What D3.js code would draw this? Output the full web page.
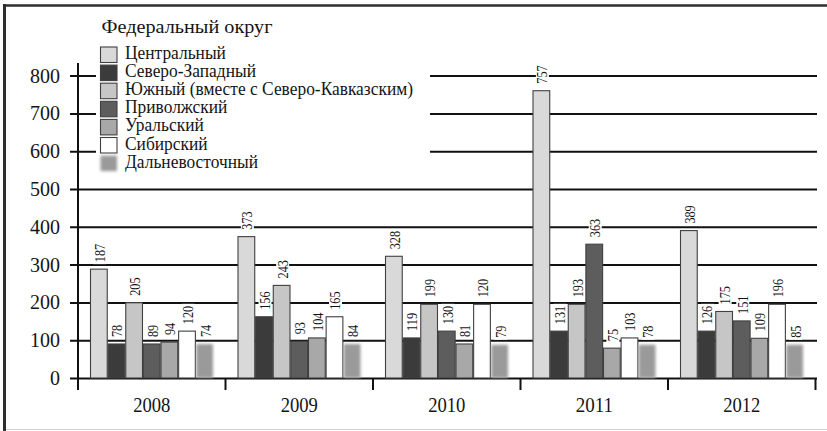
<!DOCTYPE html>
<html lang="ru">
<head>
<meta charset="UTF-8">
<title>Федеральный округ</title>
<script src="https://d3js.org/d3.v7.min.js"></script>
<style>
  body, html { margin: 0; background: #fff; }
  svg { display: block; }
  svg text { font-family: "Liberation Serif", "DejaVu Serif", "Times New Roman", serif !important; fill: #151515; }
</style>
</head>
<body>
<svg id="chart" width="827" height="431" font-family="Liberation Serif, DejaVu Serif, serif"></svg>
<script>
const years = ["2008", "2009", "2010", "2011", "2012"];
const districts = ["Центральный", "Северо-Западный", "Южный (вместе с Северо-Кавказским)",
                   "Приволжский", "Уральский", "Сибирский", "Дальневосточный"];
const districtColors = ["#d9d9d9", "#3b3b3b", "#c6c6c6", "#5d5d5d", "#a8a8a8", "#ffffff", "#9a9a9a"];

// bar heights, as drawn against the axis
const centralBars   = [288, 374, 322, 760, 390];
const northwestBars = [90, 162, 106, 124, 124];
const southBars     = [199, 245, 195, 195, 176];
const volgaBars     = [90, 97, 124, 354, 151];
const uralBars      = [95, 106, 90, 79, 105];
const siberiaBars   = [124, 162, 195, 106, 195];
const fareastBars   = [90, 90, 88, 88, 88];

// numbers printed over the bars
const centralLabels   = [187, 373, 328, 757, 389];
const northwestLabels = [78, 156, 119, 131, 126];
const southLabels     = [205, 243, 199, 193, 175];
const volgaLabels     = [89, 93, 130, 363, 151];
const uralLabels      = [94, 104, 81, 75, 109];
const siberiaLabels   = [120, 165, 120, 103, 196];
const fareastLabels   = [74, 84, 79, 78, 85];

const yTicks = [0, 100, 200, 300, 400, 500, 600, 700, 800];

const bars = [centralBars, northwestBars, southBars, volgaBars, uralBars, siberiaBars, fareastBars];
const labels = [centralLabels, northwestLabels, southLabels, volgaLabels, uralLabels, siberiaLabels, fareastLabels];

const svg = d3.select("#chart");

// squeeze a text to a given width (the original face is a narrow Times)
function fitWidth(sel, w) {
  sel.attr("textLength", w).attr("lengthAdjust", "spacingAndGlyphs");
}

// blur for the far-east bars
svg.append("defs").append("filter")
    .attr("id", "blur").attr("x", "-50%").attr("y", "-20%").attr("width", "200%").attr("height", "140%")
  .append("feGaussianBlur").attr("stdDeviation", 1.8);

// frame
svg.append("line").attr("x1", 3).attr("x2", 827).attr("y1", 5.5).attr("y2", 5.5)
    .attr("stroke", "#2e2e2e").attr("stroke-width", 2.5);
svg.append("line").attr("x1", 4.5).attr("x2", 4.5).attr("y1", 4).attr("y2", 431)
    .attr("stroke", "#2e2e2e").attr("stroke-width", 3);
svg.append("line").attr("x1", 6).attr("x2", 827).attr("y1", 429.5).attr("y2", 429.5)
    .attr("stroke", "#d0d0d0").attr("stroke-width", 1);

const x0 = d3.scaleBand().domain(years).range([78, 815.5]);
const x1 = d3.scaleBand().domain(d3.range(districts.length))
    .range([12.5, x0.bandwidth() - 12.5]).paddingInner(0.05);
const y = d3.scaleLinear().domain([0, 800]).range([378, 75.6]);

// horizontal grid + y labels
svg.append("g")
    .attr("transform", "translate(70,0)")
    .attr("font-family", null)
    .call(d3.axisLeft(y).tickValues(yTicks).tickSize(-(817 - 70)).tickPadding(10))
    .call(g => g.select(".domain").remove())
    .call(g => g.selectAll(".tick line").attr("stroke", "#111").attr("stroke-width", 2))
    .call(g => g.selectAll(".tick text").attr("font-size", 20)
        .each(function (d) { fitWidth(d3.select(this), String(d).length * 10); }));

// vertical axis line
svg.append("line").attr("x1", 78).attr("x2", 78).attr("y1", 63).attr("y2", 390)
    .attr("stroke", "#111").attr("stroke-width", 2);

// year separators
svg.append("g").selectAll("line")
  .data(years)
  .join("line")
    .attr("x1", d => x0(d) + x0.bandwidth()).attr("x2", d => x0(d) + x0.bandwidth())
    .attr("y1", 378).attr("y2", 390)
    .attr("stroke", "#111").attr("stroke-width", 2);

// bars
const groups = svg.append("g").selectAll("g")
  .data(years)
  .join("g")
    .attr("transform", d => `translate(${x0(d)},0)`);

groups.selectAll("rect")
  .data((d, yi) => districts.map((name, si) => ({ si, value: bars[si][yi] })))
  .join("rect")
    .attr("x", d => x1(d.si))
    .attr("y", d => y(d.value))
    .attr("width", x1.bandwidth())
    .attr("height", d => y(0) - y(d.value))
    .attr("fill", d => districtColors[d.si])
    .attr("stroke", d => d.si === 6 ? "none" : "#404040")
    .attr("stroke-width", 1.1)
    .attr("filter", d => d.si === 6 ? "url(#blur)" : null);

// value labels
const lab = groups.selectAll("g.lab")
  .data((d, yi) => districts.map((name, si) => ({ si, value: bars[si][yi], text: labels[si][yi] })))
  .join("g")
    .attr("class", "lab")
    .attr("transform", d => `translate(${x1(d.si) + x1.bandwidth() / 2 + 1},${y(d.value) - 7}) rotate(-90)`);

lab.append("rect").attr("fill", "#fff");
lab.append("text")
    .attr("font-size", 14.5)
    .attr("dy", "0.34em")
    .text(d => d.text)
    .each(function (d) { fitWidth(d3.select(this), String(d.text).length * 6.1); });
lab.each(function (d) {
  const w = String(d.text).length * 6.1;
  d3.select(this).select("rect").attr("x", -2).attr("y", -6.5).attr("width", w + 4).attr("height", 13);
});

// year labels
svg.append("g").selectAll("text")
  .data(years)
  .join("text")
    .attr("x", d => x0(d) + x0.bandwidth() / 2 - 18.6)
    .attr("y", 411.5)
    .attr("font-size", 21)
    .text(d => d)
    .call(fitWidth, 37.3);

// legend
const legend = svg.append("g");
legend.append("rect").attr("x", 96).attr("y", 16).attr("width", 334).attr("height", 157).attr("fill", "#fff");
legend.append("text")
    .attr("x", 101.5).attr("y", 33.3)
    .attr("font-size", 19.5)
    .text("Федеральный округ")
    .call(fitWidth, 171);

const items = legend.selectAll("g.item")
  .data(districts)
  .join("g")
    .attr("class", "item")
    .attr("transform", (d, i) => `translate(100,${46.5 + i * 18.1})`);

items.append("rect")
    .attr("x", 0.5).attr("y", 0.5).attr("width", 16.5).attr("height", 15.5)
    .attr("fill", (d, i) => districtColors[i])
    .attr("stroke", (d, i) => i === 6 ? "none" : "#404040")
    .attr("stroke-width", 1.1)
    .attr("filter", (d, i) => i === 6 ? "url(#blur)" : null);

// the reference's long item runs 288px; keep the others in the same proportion
const itemText = items.append("text")
    .attr("x", 25).attr("y", 12.5)
    .attr("font-size", 18)
    .text(d => d);
const longest = itemText.nodes()[2].getComputedTextLength();
itemText.each(function () {
  const t = d3.select(this);
  fitWidth(t, this.getComputedTextLength() * 288 / longest);
});
</script>
</body>
</html>
